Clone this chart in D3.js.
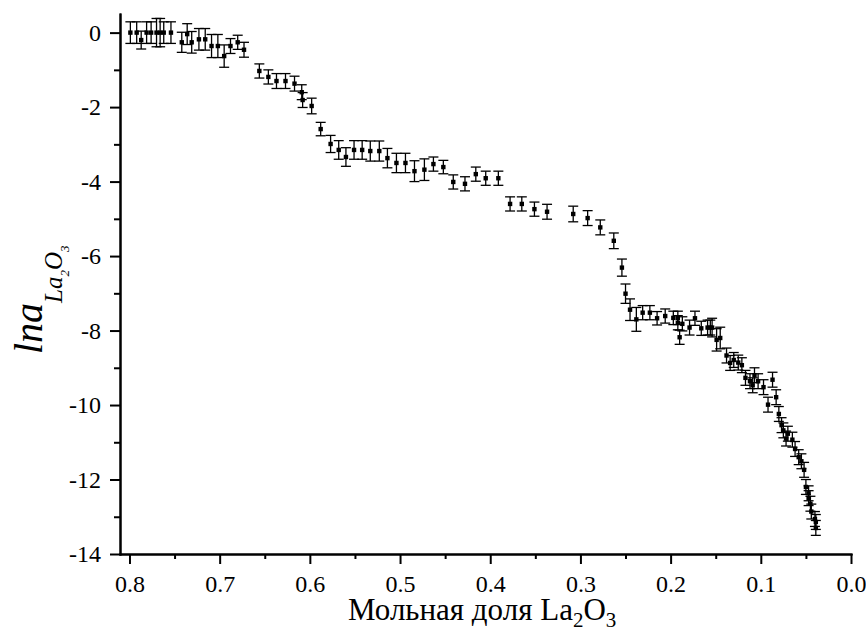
<!DOCTYPE html>
<meta charset="utf-8">
<style>
body { margin: 0; background: #fff; }
.axis path, .axis line { stroke: #000; stroke-width: 2px; }
.bar { stroke: #000; stroke-width: 1.3px; fill: none; }
</style>
<body>
<script src="https://cdn.jsdelivr.net/npm/d3@7/dist/d3.min.js"></script>
<script>

// mole fraction of La2O3
var fraction = [0.799, 0.792, 0.787, 0.781, 0.776, 0.770, 0.766, 0.762, 0.754, 0.742,
  0.736, 0.731, 0.723, 0.716, 0.709, 0.702, 0.695, 0.688, 0.680, 0.673,
  0.656, 0.646, 0.637, 0.627, 0.617, 0.609, 0.608, 0.598, 0.588, 0.577,
  0.568, 0.560, 0.551, 0.542, 0.533, 0.523, 0.514, 0.504, 0.494, 0.484,
  0.473, 0.463, 0.452, 0.441, 0.428, 0.416, 0.405, 0.391, 0.378, 0.365,
  0.351, 0.337, 0.308, 0.292, 0.278, 0.263, 0.254, 0.250, 0.245, 0.238,
  0.231, 0.223, 0.215, 0.206, 0.197, 0.192, 0.192, 0.190, 0.187, 0.179,
  0.173, 0.166, 0.159, 0.156, 0.154, 0.149, 0.145, 0.138, 0.134, 0.130,
  0.125, 0.121, 0.117, 0.112, 0.109, 0.107, 0.103, 0.097, 0.087, 0.083,
  0.092, 0.080, 0.077, 0.075, 0.070, 0.072, 0.065, 0.062, 0.058, 0.055,
  0.052, 0.050, 0.047, 0.047, 0.045, 0.044, 0.040, 0.039, 0.039];

// ln a(La2O3)
var lnA = [0, 0, -0.20, 0, 0, 0, 0, 0, 0, -0.26,
  -0.04, -0.26, -0.18, -0.18, -0.36, -0.36, -0.63, -0.36, -0.26, -0.46,
  -1.03, -1.19, -1.30, -1.30, -1.37, -1.60, -1.81, -1.97, -2.59, -2.99,
  -3.15, -3.34, -3.15, -3.15, -3.18, -3.18, -3.37, -3.50, -3.50, -3.72,
  -3.68, -3.53, -3.61, -4.01, -4.06, -3.80, -3.91, -3.91, -4.60, -4.60,
  -4.74, -4.81, -4.87, -4.98, -5.23, -5.59, -6.31, -7.01, -7.44, -7.70,
  -7.52, -7.52, -7.67, -7.61, -7.66, -7.66, -7.79, -8.18, -7.82, -7.92,
  -7.67, -7.94, -7.92, -7.92, -7.92, -8.25, -8.20, -8.67, -8.87, -8.79,
  -8.86, -8.93, -9.27, -9.36, -9.47, -9.20, -9.36, -9.52, -9.32, -9.79,
  -9.99, -10.24, -10.54, -10.68, -10.77, -10.90, -10.93, -11.18, -11.40, -11.51,
  -11.74, -12.20, -12.37, -12.50, -12.65, -12.86, -13.06, -13.14, -13.30];

// half length of the error bars
var err = [0.29, 0.29, 0.24, 0.29, 0.29, 0.38, 0.38, 0.29, 0.29, 0.27,
  0.28, 0.29, 0.29, 0.29, 0.31, 0.31, 0.30, 0.20, 0.19, 0.20,
  0.19, 0.19, 0.20, 0.20, 0.20, 0.20, 0.20, 0.21, 0.18, 0.23,
  0.25, 0.25, 0.25, 0.25, 0.27, 0.27, 0.26, 0.26, 0.26, 0.28,
  0.29, 0.19, 0.18, 0.19, 0.19, 0.19, 0.19, 0.19, 0.19, 0.19,
  0.19, 0.20, 0.21, 0.20, 0.20, 0.21, 0.23, 0.26, 0.29, 0.32,
  0.19, 0.19, 0.18, 0.19, 0.18, 0.18, 0.19, 0.19, 0.19, 0.20,
  0.19, 0.19, 0.20, 0.20, 0.25, 0.30, 0.29, 0.20, 0.20, 0.20,
  0.20, 0.20, 0.20, 0.20, 0.20, 0.20, 0.20, 0.20, 0.20, 0.20,
  0.20, 0.20, 0.20, 0.20, 0.20, 0.20, 0.20, 0.20, 0.20, 0.20,
  0.20, 0.20, 0.20, 0.20, 0.20, 0.20, 0.20, 0.20, 0.20];

var xTicks = [0.8, 0.7, 0.6, 0.5, 0.4, 0.3, 0.2, 0.1, 0.0];
var xMinor = [0.75, 0.65, 0.55, 0.45, 0.35, 0.25, 0.15, 0.05];
var yTicks = [0, -2, -4, -6, -8, -10, -12, -14];
var yMinor = [-1, -3, -5, -7, -9, -11, -13];

var serif = "Liberation Serif";
var plotLeft = 120, plotRight = 851, plotTop = 14, plotBottom = 554;

var svg = d3.select("body").append("svg")
    .attr("width", 866)
    .attr("height", 629)
    .attr("font-family", serif);

var x = d3.scaleLinear().domain([0.8105, 0]).range([plotLeft, plotRight]);
var y = d3.scaleLinear().domain([-14, 0.5]).range([plotBottom, plotTop]);

var data = fraction.map(function(f, i) {
  return {x: f, y: lnA[i], e: err[i]};
});

// error bars
var bars = svg.append("g");
data.forEach(function(d) {
  var cx = x(d.x), y1 = y(d.y + d.e), y2 = y(d.y - d.e);
  bars.append("line").attr("class", "bar")
      .attr("x1", cx).attr("x2", cx).attr("y1", y1).attr("y2", y2);
  bars.append("line").attr("class", "bar")
      .attr("x1", cx - 5).attr("x2", cx + 5).attr("y1", y1).attr("y2", y1);
  bars.append("line").attr("class", "bar")
      .attr("x1", cx - 5).attr("x2", cx + 5).attr("y1", y2).attr("y2", y2);
});

// points
svg.append("g").selectAll("rect")
    .data(data)
  .enter().append("rect")
    .attr("x", function(d) { return x(d.x) - 2.2; })
    .attr("y", function(d) { return y(d.y) - 2.2; })
    .attr("width", 4.4)
    .attr("height", 4.4)
    .attr("fill", "#000");

// axes
svg.append("g")
    .attr("class", "axis")
    .attr("transform", "translate(0," + plotBottom + ")")
    .call(d3.axisBottom(x).tickValues(xMinor).tickSize(5).tickSizeOuter(0).tickFormat(""));

svg.append("g")
    .attr("class", "axis")
    .attr("transform", "translate(0," + plotBottom + ")")
    .call(d3.axisBottom(x).tickValues(xTicks).tickSize(10).tickSizeOuter(0)
      .tickPadding(11).tickFormat(d3.format(".1f")));

svg.append("g")
    .attr("class", "axis")
    .attr("transform", "translate(" + plotLeft + ",0)")
    .call(d3.axisLeft(y).tickValues(yMinor).tickSize(6).tickSizeOuter(0).tickFormat(""));

svg.append("g")
    .attr("class", "axis")
    .attr("transform", "translate(" + plotLeft + ",0)")
    .call(d3.axisLeft(y).tickValues(yTicks).tickSize(10).tickSizeOuter(0)
      .tickPadding(9).tickFormat(function(d) { return String(d); }));

svg.selectAll(".axis")
    .attr("font-family", serif)
    .attr("font-size", 24);
svg.selectAll(".axis text").attr("fill", "#000");
svg.selectAll(".axis .domain").attr("stroke-linecap", "square");

// x title
var xt = svg.append("text")
    .attr("x", 348)
    .attr("y", 620)
    .attr("font-size", 31);
xt.append("tspan").text("Мольная доля La");
xt.append("tspan").attr("font-size", 21).attr("dy", 7).text("2");
xt.append("tspan").attr("dy", -7).text("O");
xt.append("tspan").attr("font-size", 21).attr("dy", 7).text("3");

// y title
var yt = svg.append("text")
    .attr("transform", "translate(42,354) rotate(-90)")
    .attr("font-style", "italic")
    .attr("font-size", 40);
yt.append("tspan").text("lna");
yt.append("tspan").attr("font-size", 25).attr("dy", 20).text("La");
yt.append("tspan").attr("font-size", 13).attr("dy", 7).text("2");
yt.append("tspan").attr("font-size", 25).attr("dy", -7).text("O");
yt.append("tspan").attr("font-size", 13).attr("dy", 7).text("3");

</script>
</body>
